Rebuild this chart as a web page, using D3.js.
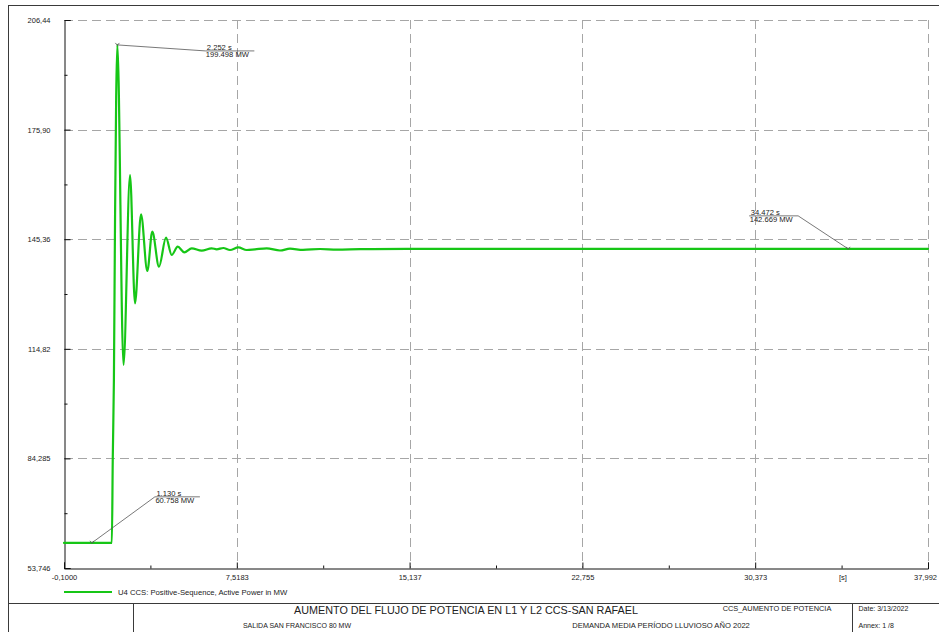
<!DOCTYPE html>
<html>
<head>
<meta charset="utf-8">
<script src="https://cdn.jsdelivr.net/npm/d3@7"></script>
<style>
  html, body { margin: 0; padding: 0; background: #fff; }
  svg { display: block; font-family: "Liberation Sans", Arial, sans-serif; }
</style>
</head>
<body>
<svg id="chart" width="939" height="632"></svg>
<script>
// Simulation result: U4 CCS positive-sequence active power (MW) vs time (s)
const timeS = [
  -0.1, 1.13, 2.0, 2.01, 2.05, 2.10, 2.15, 2.20, 2.252,
  2.523, 2.81, 3.03, 3.295, 3.573, 3.793, 4.088, 4.397, 4.648, 4.913,
  5.204, 5.53, 5.971, 6.412, 6.632, 6.923, 7.219, 7.585, 7.955, 8.321,
  8.837, 9.423, 9.864, 10.437, 11.187, 11.936, 12.95, 15.0, 20.0,
  34.472, 37.992
];
const powerMW = [
  60.74, 60.758, 60.76, 60.76, 84.3, 106.0, 151.0, 185.0, 199.498,
  110.31, 163.25, 127.50, 152.30, 136.50, 147.45, 137.70, 145.78, 140.96, 143.27,
  141.71, 142.83, 142.16, 142.83, 142.55, 142.91, 142.35, 143.11, 142.35, 142.55,
  142.83, 142.21, 142.72, 142.38, 142.63, 142.47, 142.58, 142.64, 142.66,
  142.669, 142.669
];

// Axis ticks and their printed labels
const xTicks = [-0.1, 7.5183, 15.137, 22.755, 30.373, 37.992];
const xTickLabels = ["-0,1000", "7,5183", "15,137", "22,755", "30,373", "37,992"];
const yTicks = [53.746, 84.285, 114.82, 145.36, 175.90, 206.44];
const yTickLabels = ["53,746", "84,285", "114,82", "145,36", "175,90", "206,44"];

// Value markers on the curve
const markerTimes = [2.252, 1.130, 34.472];
const markerValues = [199.498, 60.758, 142.669];

const seriesName = "U4 CCS: Positive-Sequence, Active Power in MW";
const titleMain = "AUMENTO DEL FLUJO DE POTENCIA EN L1 Y L2 CCS-SAN RAFAEL";
const titleSub1 = "SALIDA SAN FRANCISCO 80 MW";
const titleSub2 = "DEMANDA MEDIA PERÍODO LLUVIOSO AÑO 2022";
const caseName = "CCS_AUMENTO DE POTENCIA";
const dateText = "Date: 3/13/2022";
const annexText = "Annex: 1 /8";

// ---- layout ----
const plot = { left: 64, right: 928, top: 20, bottom: 568 };
const lineColor = "#16c616";
const frameColor = "#3a3a3a";
const gridColor = "#a6a6a6";
const textColor = "#222";
const tickFont = 7.5;

const svg = d3.select("#chart");

const x = d3.scaleLinear().domain([xTicks[0], xTicks[xTicks.length - 1]]).range([plot.left, plot.right]);
const y = d3.scaleLinear().domain([yTicks[0], yTicks[yTicks.length - 1]]).range([plot.bottom, plot.top]);

// Page frame and title block
const frame = svg.append("g").attr("stroke", frameColor).attr("stroke-width", 1).attr("fill", "none");
frame.append("rect").attr("x", 8.5).attr("y", 5.5).attr("width", 960).attr("height", 660);
frame.append("line").attr("x1", 8).attr("x2", 939).attr("y1", 603.5).attr("y2", 603.5);
frame.append("line").attr("x1", 133.5).attr("x2", 133.5).attr("y1", 603).attr("y2", 632);
frame.append("line").attr("x1", 852.5).attr("x2", 852.5).attr("y1", 603).attr("y2", 632);

// Dashed grid
const grid = svg.append("g").attr("stroke", gridColor).attr("stroke-width", 1)
  .attr("stroke-dasharray", "9,5").attr("fill", "none");
grid.selectAll("line.h").data(yTicks.slice(1)).join("line").attr("class", "h")
  .attr("x1", plot.left).attr("x2", plot.right)
  .attr("y1", d => Math.round(y(d)) + 0.5).attr("y2", d => Math.round(y(d)) + 0.5);
grid.selectAll("line.v").data(xTicks.slice(1)).join("line").attr("class", "v")
  .attr("y1", plot.top).attr("y2", plot.bottom)
  .attr("x1", d => Math.round(x(d)) + 0.5).attr("x2", d => Math.round(x(d)) + 0.5);

// Axes (ticks point into the plot)
const mid = arr => arr.slice(1).map((v, i) => (v + arr[i]) / 2);

const yAxis = d3.axisLeft(y).tickValues(yTicks).tickSize(-6).tickPadding(14)
  .tickFormat((d, i) => yTickLabels[i]);
const yMinor = d3.axisLeft(y).tickValues(mid(yTicks)).tickSize(-3).tickFormat("");
const xAxis = d3.axisBottom(x).tickValues(xTicks).tickSize(-6).tickPadding(6)
  .tickFormat((d, i) => xTickLabels[i]);
const xMinor = d3.axisBottom(x).tickValues(mid(xTicks)).tickSize(-3).tickFormat("");

function styleAxis(g) {
  g.select(".domain").attr("stroke", "#111");
  g.selectAll(".tick line").attr("stroke", "#111");
  g.selectAll(".tick text").attr("fill", textColor).attr("font-size", tickFont)
    .attr("font-family", "'Liberation Sans', Arial, sans-serif");
}
svg.append("g").attr("transform", `translate(${plot.left + 0.5},0)`).call(yAxis).call(styleAxis);
svg.append("g").attr("transform", `translate(${plot.left + 0.5},0)`).call(yMinor).call(styleAxis)
  .select(".domain").remove();
const xg = svg.append("g").attr("transform", `translate(0,${plot.bottom + 0.5})`).call(xAxis).call(styleAxis);
// keep the last label inside the page
xg.selectAll(".tick text").filter((d, i) => i === xTicks.length - 1).attr("dx", -3);
svg.append("g").attr("transform", `translate(0,${plot.bottom + 0.5})`).call(xMinor).call(styleAxis)
  .select(".domain").remove();

svg.append("text").attr("x", 843).attr("y", 580).attr("text-anchor", "middle")
  .attr("font-size", tickFont).attr("fill", textColor).text("[s]");

// Curve
const points = timeS.map((t, i) => [t, powerMW[i]]);
const line = d3.line().x(d => x(d[0])).y(d => y(d[1])).curve(d3.curveMonotoneX);
svg.append("path").datum(points).attr("d", line)
  .attr("fill", "none").attr("stroke", lineColor).attr("stroke-width", 2.2)
  .attr("stroke-linejoin", "round").attr("stroke-linecap", "round");

// Value labels with leader lines: offset of the label anchor and which side the text sits
const labelLayout = [
  { dx: 88, dy: 6, side: "right", width: 49 },
  { dx: 63, dy: -46, side: "right", width: 45 },
  { dx: -50, dy: -33, side: "left", width: 49 }
];
const ann = svg.append("g");
markerTimes.forEach((t, i) => {
  const px = x(t), py = y(markerValues[i]);
  const L = labelLayout[i];
  const ax = px + L.dx, ay = py + L.dy;
  const x0 = L.side === "right" ? ax : ax - L.width;
  const x1 = L.side === "right" ? ax + L.width : ax;
  ann.append("polyline")
    .attr("points", `${px - 2},${py - 2} ${px},${py + 0.5} ${px + 2},${py - 2}`)
    .attr("fill", "none").attr("stroke", "#555").attr("stroke-width", 0.8);
  ann.append("line").attr("x1", px).attr("y1", py).attr("x2", ax).attr("y2", ay)
    .attr("stroke", "#555").attr("stroke-width", 0.8);
  ann.append("line").attr("x1", x0).attr("y1", ay).attr("x2", x1).attr("y2", ay)
    .attr("stroke", "#555").attr("stroke-width", 0.8);
  ann.append("text").attr("x", x0 + 1.5).attr("y", ay - 1).attr("font-size", 7.6)
    .attr("fill", textColor).text(t.toFixed(3) + " s");
  ann.append("text").attr("x", x0 + 0.5).attr("y", ay + 6.5).attr("font-size", 7.6)
    .attr("fill", textColor).text(markerValues[i].toFixed(3) + " MW");
});

// Legend
svg.append("line").attr("x1", 64).attr("x2", 112).attr("y1", 592).attr("y2", 592)
  .attr("stroke", lineColor).attr("stroke-width", 2.2);
svg.append("text").attr("x", 118).attr("y", 594.7).attr("font-size", 7.7)
  .attr("fill", textColor).text(seriesName);

// Title block texts
svg.append("text").attr("x", 466).attr("y", 613.5).attr("text-anchor", "middle")
  .attr("font-size", 10.8).attr("fill", textColor).text(titleMain);
svg.append("text").attr("x", 777).attr("y", 610.5).attr("text-anchor", "middle")
  .attr("font-size", 7.4).attr("fill", textColor).text(caseName);
svg.append("text").attr("x", 297).attr("y", 627.5).attr("text-anchor", "middle")
  .attr("font-size", 7).attr("fill", textColor).text(titleSub1);
svg.append("text").attr("x", 661).attr("y", 627.5).attr("text-anchor", "middle")
  .attr("font-size", 7.6).attr("fill", textColor).text(titleSub2);
svg.append("text").attr("x", 858.5).attr("y", 610.5)
  .attr("font-size", 7).attr("fill", textColor).text(dateText);
svg.append("text").attr("x", 858.5).attr("y", 627.5)
  .attr("font-size", 7).attr("fill", textColor).text(annexText);
</script>
</body>
</html>
